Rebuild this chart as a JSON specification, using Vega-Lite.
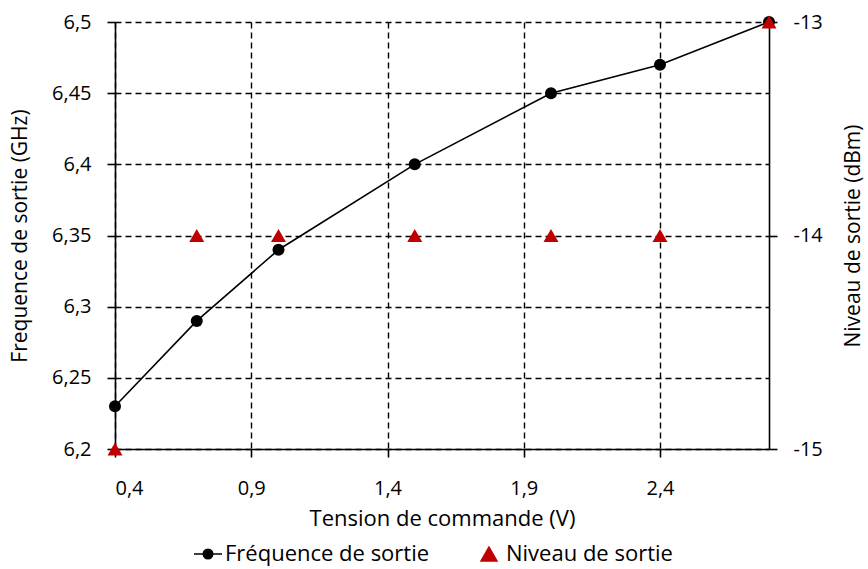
{
  "$schema": "https://vega.github.io/schema/vega-lite/v6.json",
  "width": 654,
  "height": 427,
  "autosize": {"type": "none"},
  "padding": {"left": 115, "top": 22, "right": 99, "bottom": 120},
  "background": "white",
  "config": {
    "view": {"stroke": null},
    "font": "Open Sans",
    "axis": {
      "labelFont": "Open Sans",
      "titleFont": "Open Sans",
      "labelFontSize": 20,
      "titleFontSize": 22,
      "titleFontWeight": "normal",
      "labelColor": "#000000",
      "titleColor": "#000000",
      "domainColor": "#000000",
      "domainWidth": 1.6,
      "tickColor": "#000000",
      "tickWidth": 1.6,
      "tickSize": 8,
      "gridColor": "#000000",
      "gridWidth": 1.4,
      "gridDash": [6, 4],
      "gridOpacity": 1
    },
    "legend": {
      "labelFont": "Open Sans",
      "labelFontSize": 22,
      "labelColor": "#000000",
      "labelLimit": 500
    }
  },
  "data": {
    "values": [
      {"V": 0.4, "serie": "Fréquence de sortie", "val": 6.23},
      {"V": 0.7, "serie": "Fréquence de sortie", "val": 6.29},
      {"V": 1.0, "serie": "Fréquence de sortie", "val": 6.34},
      {"V": 1.5, "serie": "Fréquence de sortie", "val": 6.40},
      {"V": 2.0, "serie": "Fréquence de sortie", "val": 6.45},
      {"V": 2.4, "serie": "Fréquence de sortie", "val": 6.47},
      {"V": 2.8, "serie": "Fréquence de sortie", "val": 6.50},
      {"V": 0.4, "serie": "Niveau de sortie", "val": -15},
      {"V": 0.7, "serie": "Niveau de sortie", "val": -14},
      {"V": 1.0, "serie": "Niveau de sortie", "val": -14},
      {"V": 1.5, "serie": "Niveau de sortie", "val": -14},
      {"V": 2.0, "serie": "Niveau de sortie", "val": -14},
      {"V": 2.4, "serie": "Niveau de sortie", "val": -14},
      {"V": 2.8, "serie": "Niveau de sortie", "val": -13}
    ]
  },
  "encoding": {
    "x": {
      "field": "V",
      "type": "quantitative",
      "scale": {"domain": [0.4, 2.8], "nice": false, "zero": false},
      "axis": {
        "title": "Tension de commande (V)",
        "values": [0.4, 0.9, 1.4, 1.9, 2.4],
        "labelExpr": "replace(toString(datum.value), '.', ',')",
        "grid": true,
        "labelPadding": 21,
        "titlePadding": 10
      }
    },
    "color": {
      "field": "serie",
      "type": "nominal",
      "scale": {"domain": ["Fréquence de sortie", "Niveau de sortie"], "range": ["#000000", "#C00000"]}
    },
    "shape": {
      "field": "serie",
      "type": "nominal",
      "scale": {"domain": ["Fréquence de sortie", "Niveau de sortie"], "range": ["M-1,0H1M0.34,0A0.34,0.34 0 1,1 -0.34,0A0.34,0.34 0 1,1 0.34,0Z", "M0,-0.5L0.57,0.5L-0.57,0.5Z"]},
      "legend": {
        "title": null,
        "orient": "none",
        "legendX": 78,
        "legendY": 517,
        "direction": "horizontal",
        "columnPadding": 44,
        "padding": 0,
        "labelOffset": 2,
        "symbolSize": 784,
        "encode": {
          "symbols": {
            "fill": {"signal": "datum.value === 'Fréquence de sortie' ? '#000000' : '#C00000'"},
            "stroke": {"signal": "datum.value === 'Fréquence de sortie' ? '#000000' : '#C00000'"},
            "strokeWidth": {"signal": "datum.value === 'Fréquence de sortie' ? 1.5 : 0"},
            "opacity": {"value": 1},
            "fillOpacity": {"value": 1}
          }
        }
      }
    }
  },
  "layer": [
    {
      "transform": [{"filter": "datum.serie === 'Fréquence de sortie'"}],
      "encoding": {
        "y": {
          "field": "val",
          "type": "quantitative",
          "scale": {"domain": [6.2, 6.5], "nice": false, "zero": false},
          "axis": {
            "orient": "left",
            "title": "Frequence de sortie (GHz)",
            "titleFontSize": 21,
            "values": [6.2, 6.25, 6.3, 6.35, 6.4, 6.45, 6.5],
            "labelExpr": "replace(toString(datum.value), '.', ',')",
            "grid": true,
            "labelPadding": 16,
            "titlePadding": 21
          }
        }
      },
      "layer": [
        {"mark": {"type": "line", "strokeWidth": 1.6, "clip": false}, "encoding": {"shape": null}},
        {
          "mark": {"type": "point", "filled": true, "size": 144, "opacity": 1, "clip": false, "shape": "circle"},
          "encoding": {"shape": null}
        }
      ]
    },
    {
      "transform": [{"filter": "datum.serie === 'Niveau de sortie'"}],
      "mark": {"type": "point", "filled": true, "size": 692, "opacity": 1, "clip": false},
      "encoding": {
        "y": {
          "field": "val",
          "type": "quantitative",
          "scale": {"domain": [-15, -13], "nice": false, "zero": false},
          "axis": {
            "orient": "right",
            "title": "Niveau de sortie (dBm)",
            "titleAngle": -90,
            "titleFontSize": 21,
            "values": [-15, -14, -13],
            "labelExpr": "toString(datum.value)",
            "grid": false,
            "labelPadding": 16,
            "titlePadding": 41
          }
        }
      }
    }
  ],
  "resolve": {"scale": {"y": "independent"}}
}
